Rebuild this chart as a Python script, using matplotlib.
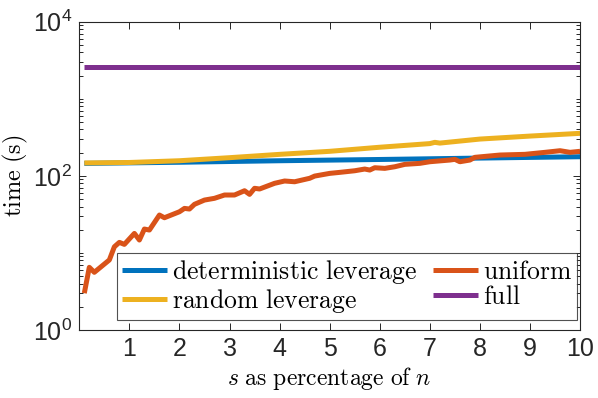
import numpy as np
import matplotlib
matplotlib.use("Agg")
import matplotlib.pyplot as plt
from matplotlib.ticker import FixedLocator, NullFormatter, FixedFormatter

plt.rcParams['mathtext.fontset'] = 'cm'
plt.rcParams['font.family'] = ['Liberation Sans', 'DejaVu Sans']

# ---- data ----
x_unif = [0.1, 0.2, 0.3, 0.6, 0.7, 0.8, 0.9, 1.1, 1.2, 1.3, 1.4, 1.6, 1.7, 2.0, 2.1, 2.2, 2.3, 2.5,
          2.7, 2.9, 3.1, 3.3, 3.4, 3.5, 3.6, 3.9, 4.1, 4.3, 4.6, 4.7, 5.0, 5.2, 5.5, 5.7, 5.8, 5.9,
          6.1, 6.3, 6.5, 6.8, 7.0, 7.4, 7.5, 7.6, 7.8, 7.9, 8.4, 8.9, 9.3, 9.6, 9.8, 10.0]
t_unif = [3.0, 6.5, 5.6, 8.1, 12.0, 13.7, 12.9, 17.9, 14.7, 20.4, 19.8, 31.0, 28.6, 34.2, 37.8, 37.1,
          42.7, 48.5, 51.1, 56.4, 56.4, 64.1, 57.5, 68.9, 67.5, 80.0, 85.7, 83.8, 92.9, 99.3, 107.6,
          110.9, 116.4, 122.5, 118.9, 127.4, 125.0, 131.2, 140.9, 145.2, 152.4, 160.3, 163.7, 152.4,
          160.3, 173.8, 186.2, 190.1, 201.8, 211.8, 201.8, 208.0]

x_det = [0.1, 2.0, 4.0, 6.0, 8.0, 10.0]
t_det = [145, 150, 157, 163, 170, 177]

x_rand = [0.1, 1.0, 2.0, 3.0, 4.0, 5.0, 6.0, 7.0, 7.1, 7.2, 8.0, 9.0, 10.0]
t_rand = [147, 149, 157, 172, 190, 208, 235, 262, 272, 266, 300, 328, 356]

x_full = [0.1, 10.0]
t_full = [2570, 2570]

labels = ['deterministic leverage', 'random leverage', 'uniform', 'full']
colors = ['#0072BD', '#EDB120', '#D95319', '#7E2F8E']
xticks = [1, 2, 3, 4, 5, 6, 7, 8, 9, 10]
yticks = [1, 100, 10000]
yticklabels = [r'$\mathregular{10^0}$', r'$\mathregular{10^2}$', r'$\mathregular{10^4}$']

fig = plt.figure(figsize=(5.98, 3.98), dpi=100)
ax = fig.add_axes([0.1326, 0.1709, 0.8374, 0.7746])

lw = 3.6
h_det, = ax.plot(x_det, t_det, color=colors[0], lw=lw, solid_capstyle='butt')
h_rand, = ax.plot(x_rand, t_rand, color=colors[1], lw=lw, solid_capstyle='butt')
h_unif, = ax.plot(x_unif, t_unif, color=colors[2], lw=lw, solid_capstyle='butt')
h_full, = ax.plot(x_full, t_full, color=colors[3], lw=lw, solid_capstyle='butt')

ax.set_yscale('log')
ax.set_xlim(0, 10)
ax.set_ylim(1, 10000)
ax.xaxis.set_major_locator(FixedLocator(xticks))
ax.set_xticklabels([str(v) for v in xticks])
ax.yaxis.set_major_locator(FixedLocator(yticks))
ax.yaxis.set_major_formatter(FixedFormatter(yticklabels))
minors = [k * 10.0**d for d in range(0, 4) for k in range(2, 10)] + [10, 1000]
ax.yaxis.set_minor_locator(FixedLocator(minors))
ax.yaxis.set_minor_formatter(NullFormatter())
ax.xaxis.set_minor_locator(FixedLocator([]))

axcol = '#262626'
for s in ax.spines.values():
    s.set_color(axcol)
    s.set_linewidth(0.8)
ax.tick_params(which='both', direction='in', top=True, right=True, colors=axcol,
               width=0.7, labelcolor='#262626')
ax.tick_params(which='major', length=5, labelsize=18, pad=5)
ax.tick_params(which='minor', length=3)

ax.set_ylabel(r'$\mathrm{time\ (s)}$', fontsize=17.5, labelpad=2)
ax.set_xlabel(r'$s\ \mathrm{as\ percentage\ of}\ n$', fontsize=17, labelpad=3)

leg = ax.legend([h_det, h_rand, h_unif, h_full],
                [r'$\mathrm{deterministic\ leverage}$', r'$\mathrm{random\ leverage}$',
                 r'$\mathrm{uniform}$', r'$\mathrm{full}$'],
                ncol=2, loc='lower right', bbox_to_anchor=(0.994, 0.032),
                fontsize=18.5, frameon=True, fancybox=False, handlelength=1.75,
                handletextpad=0.2, columnspacing=0.6, labelspacing=0.05,
                borderpad=0.2, borderaxespad=0)
leg.get_frame().set_edgecolor(axcol)
leg.get_frame().set_linewidth(0.8)

fig.savefig('out.png', dpi=100)
